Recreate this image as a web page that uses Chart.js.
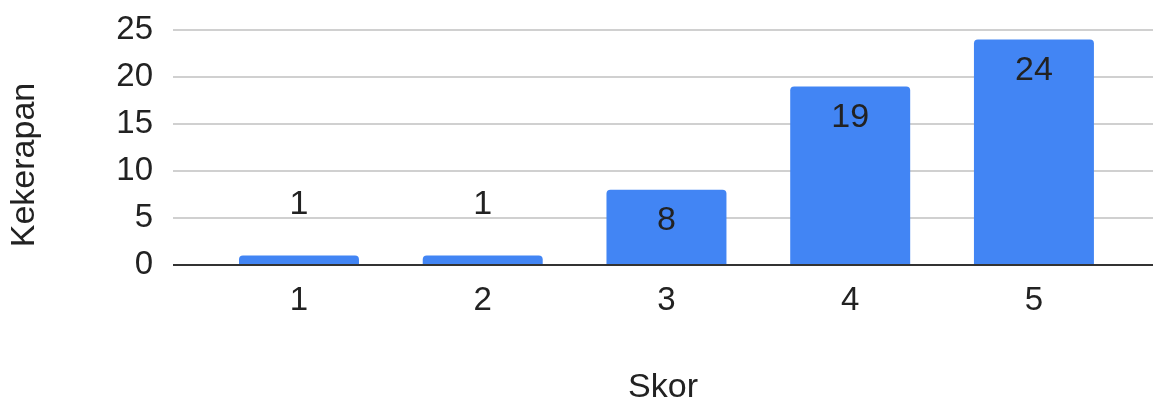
<!DOCTYPE html>
<html>
<head>
<meta charset="utf-8">
<script src="https://cdn.jsdelivr.net/npm/chart.js@4"></script>
<style>
  html, body { margin: 0; padding: 0; background: #fff; }
  #wrap { width: 1153px; height: 403px; position: relative; }
</style>
</head>
<body>
<div id="wrap"><canvas id="c" width="1153" height="403"></canvas></div>
<script>
const categories = ['1', '2', '3', '4', '5'];
const frequencies = [1, 1, 8, 19, 24];
const yTicks = [0, 5, 10, 15, 20, 25];
const xTitle = 'Skor';
const yTitle = 'Kekerapan';

const FONT = '"Liberation Sans", Arial, sans-serif';
const TEXT = '#222222';

const points = categories.map((c, i) => ({ x: Number(c), y: frequencies[i] }));

const labelPlugin = {
  id: 'barLabels',
  afterDatasetsDraw(chart) {
    const ctx = chart.ctx;
    const meta = chart.getDatasetMeta(0);
    const yScale = chart.scales.y;
    ctx.save();
    ctx.font = '34px ' + FONT;
    ctx.textAlign = 'center';
    ctx.textBaseline = 'middle';
    meta.data.forEach((bar, i) => {
      const v = frequencies[i];
      const top = yScale.getPixelForValue(v);
      const text = String(v);
      if (v >= 5) {
        ctx.fillStyle = TEXT;
        ctx.fillText(text, bar.x, top + 31);
      } else {
        const y = top - 51;
        ctx.lineWidth = 4;
        ctx.strokeStyle = '#ffffff';
        ctx.lineJoin = 'round';
        ctx.strokeText(text, bar.x, y);
        ctx.fillStyle = TEXT;
        ctx.fillText(text, bar.x, y);
      }
    });
    ctx.restore();
  }
};

const yTitlePlugin = {
  id: 'yTitle',
  afterDraw(chart) {
    const ctx = chart.ctx;
    const area = chart.chartArea;
    ctx.save();
    ctx.translate(25, (area.top + area.bottom) / 2 + 17.5);
    ctx.rotate(-Math.PI / 2);
    ctx.font = '34px ' + FONT;
    ctx.fillStyle = TEXT;
    ctx.textAlign = 'center';
    ctx.textBaseline = 'middle';
    ctx.fillText(yTitle, 0, 0);
    ctx.restore();
  }
};

new Chart(document.getElementById('c'), {
  type: 'bar',
  data: {
    datasets: [{
      data: points,
      backgroundColor: '#4285F4',
      borderRadius: 4,
      borderSkipped: 'start',
      categoryPercentage: 1,
      barPercentage: 0.653
    }]
  },
  options: {
    responsive: false,
    animation: false,
    devicePixelRatio: 1,
    layout: { padding: { top: 30, left: 0, right: 0, bottom: 0 } },
    plugins: {
      legend: { display: false },
      tooltip: { enabled: false }
    },
    scales: {
      x: {
        type: 'linear',
        offset: false,
        min: 0.3143,
        max: 5.648,
        afterBuildTicks(scale) {
          scale.ticks = categories.map(c => ({ value: Number(c) }));
        },
        afterFit(scale) { scale.height = 138; scale.paddingLeft = 0; scale.paddingRight = 0; },
        grid: { display: false, drawTicks: false },
        border: { display: false },
        ticks: {
          padding: 16,
          color: TEXT,
          font: { family: FONT, size: 33, lineHeight: 1.2 },
          callback: (v) => categories[categories.indexOf(String(v))] ?? ''
        },
        title: {
          display: true,
          text: xTitle,
          color: TEXT,
          font: { family: FONT, size: 34, lineHeight: 0.9 },
          padding: { top: 0, bottom: 0 }
        }
      },
      y: {
        type: 'linear',
        min: yTicks[0],
        max: yTicks[yTicks.length - 1],
        afterBuildTicks(scale) {
          scale.ticks = yTicks.map(v => ({ value: v }));
        },
        afterFit(scale) { scale.width = 173; scale.paddingTop = 0; scale.paddingBottom = 0; },
        grid: {
          drawTicks: false,
          color: (c) => c.tick && c.tick.value === 0 ? '#333333' : '#d0d0d0',
          lineWidth: 2
        },
        border: { display: false },
        ticks: {
          padding: 20,
          color: TEXT,
          font: { family: FONT, size: 33, lineHeight: 1.2 }
        },
        title: { display: false }
      }
    }
  },
  plugins: [labelPlugin, yTitlePlugin]
});
</script>
</body>
</html>
